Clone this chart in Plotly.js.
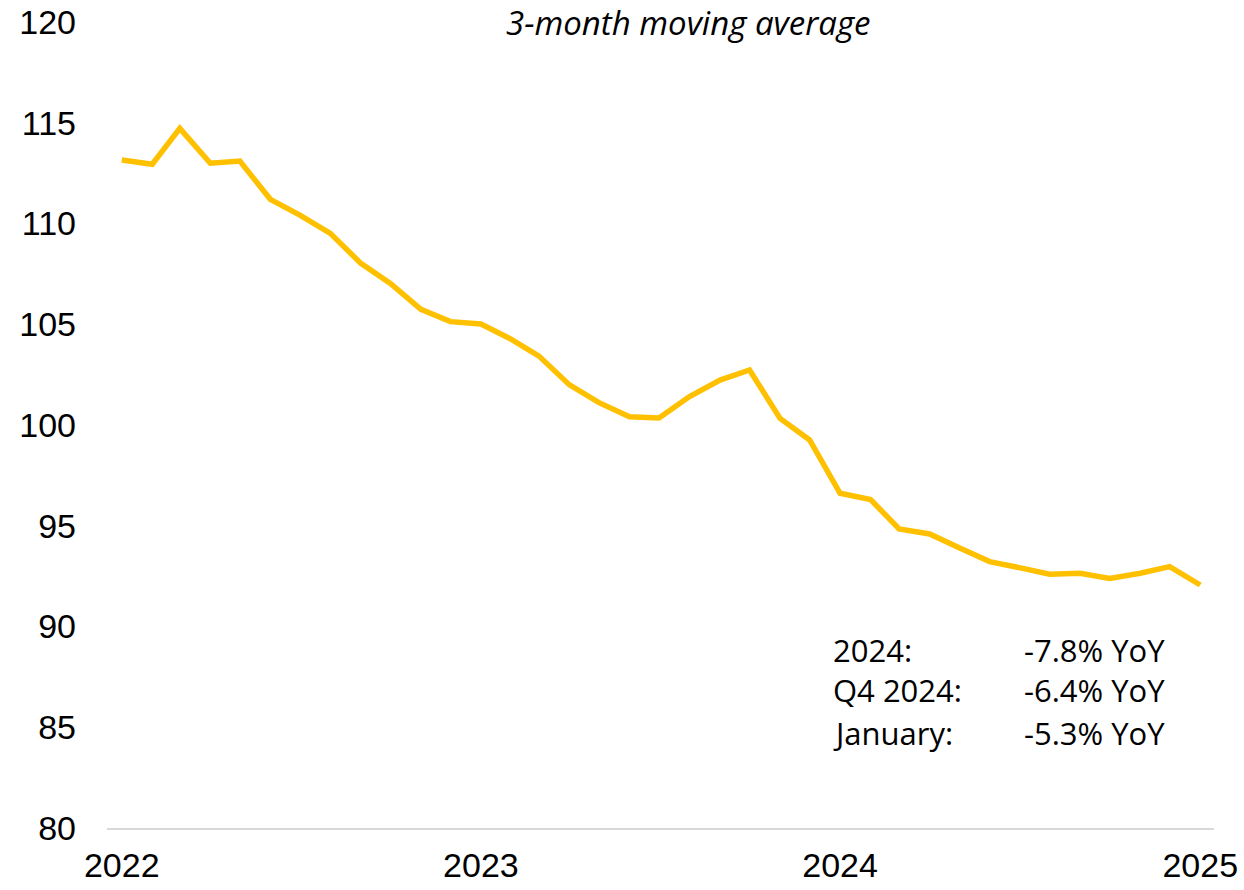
<!DOCTYPE html>
<html>
<head>
<meta charset="utf-8">
<script src="https://cdn.plot.ly/plotly-3.0.1.min.js"></script>
<style>html,body{margin:0;padding:0;background:#fff;}#chart{width:1244px;height:890px;}</style>
</head>
<body>
<div id="chart"></div>
<script>
const months = ['2022-01-01','2022-02-01','2022-03-01','2022-04-01','2022-05-01','2022-06-01','2022-07-01','2022-08-01','2022-09-01','2022-10-01','2022-11-01','2022-12-01',
  '2023-01-01','2023-02-01','2023-03-01','2023-04-01','2023-05-01','2023-06-01','2023-07-01','2023-08-01','2023-09-01','2023-10-01','2023-11-01','2023-12-01',
  '2024-01-01','2024-02-01','2024-03-01','2024-04-01','2024-05-01','2024-06-01','2024-07-01','2024-08-01','2024-09-01','2024-10-01','2024-11-01','2024-12-01',
  '2025-01-01'];
const values = [113.15, 112.94, 114.72, 112.99, 113.10, 111.20, 110.42, 109.51, 108.02, 107.03, 105.74, 105.13,
  105.01, 104.25, 103.42, 101.99, 101.11, 100.41, 100.35, 101.41, 102.23, 102.73, 100.33, 99.26,
  96.61, 96.30, 94.84, 94.59, 93.91, 93.22, 92.92, 92.59, 92.64, 92.39, 92.64, 92.97,
  92.06];
const yearTicks = ['2022-01-01','2023-01-01','2024-01-01','2025-01-01'];
const yearLabels = ['2022','2023','2024','2025'];
const yTicks = [80, 85, 90, 95, 100, 105, 110, 115, 120];
const chartTitle = '3-month moving average';
const statLabels = ['2024:', 'Q4 2024:', 'January:'];
const statValues = ['-7.8% YoY', '-6.4% YoY', '-5.3% YoY'];

const statRowsY = [0.221, 0.171, 0.118];
const annFont = {family: '"Open Sans", "Noto Sans", sans-serif', size: 31, color: '#000'};
const annotations = [{
  text: '<i>' + chartTitle + '</i>', xref: 'paper', yref: 'paper', x: 0.525, y: 1,
  xanchor: 'center', yanchor: 'middle', showarrow: false,
  font: {family: '"Open Sans", "Noto Sans", sans-serif', size: 33, color: '#000'}
}];
statLabels.forEach((lab, i) => {
  annotations.push({text: lab, xref: 'paper', yref: 'paper', x: 0.654, y: statRowsY[i],
    xanchor: 'left', yanchor: 'middle', showarrow: false, font: annFont});
  annotations.push({text: statValues[i], xref: 'paper', yref: 'paper', x: 0.827, y: statRowsY[i],
    xanchor: 'left', yanchor: 'middle', showarrow: false, font: annFont});
});

const trace = {
  x: months, y: values, type: 'scatter', mode: 'lines',
  line: {color: '#FFC000', width: 5.5},
  hoverinfo: 'skip'
};

const layout = {
  width: 1244, height: 890,
  margin: {l: 107, r: 30, t: 22, b: 62},
  paper_bgcolor: '#fff', plot_bgcolor: '#fff',
  showlegend: false,
  xaxis: {
    type: 'date', range: ['2021-12-17', '2025-01-15'],
    tickvals: yearTicks, ticktext: yearLabels,
    showgrid: false, zeroline: false, showline: true, linecolor: '#d9d9d9', linewidth: 2,
    ticks: '', ticklabelstandoff: 6,
    tickfont: {family: '"Liberation Sans", Arial, sans-serif', size: 34, color: '#000'}
  },
  yaxis: {
    range: [80, 120], tickvals: yTicks,
    showgrid: false, zeroline: false, showline: false,
    ticks: '', ticklabelstandoff: 30,
    tickfont: {family: '"Liberation Sans", Arial, sans-serif', size: 34, color: '#000'}
  },
  annotations: annotations
};

Plotly.newPlot('chart', [trace], layout, {displayModeBar: false, staticPlot: true});
</script>
</body>
</html>
